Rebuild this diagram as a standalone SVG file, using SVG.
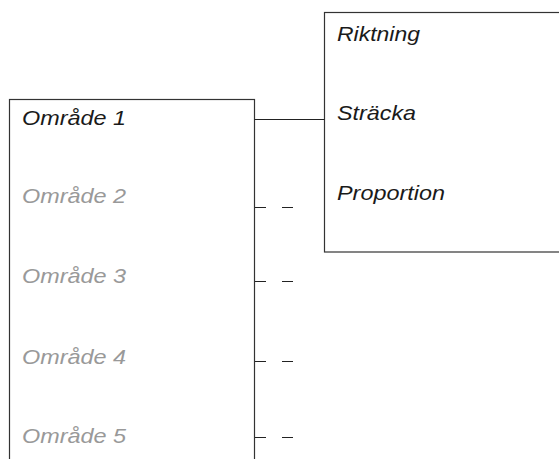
<svg xmlns="http://www.w3.org/2000/svg" width="559" height="459" viewBox="0 0 559 459">
<style>
.box{fill:none;stroke:#333;stroke-width:1.2}
.t{font-family:"Liberation Sans",Arial,sans-serif;font-style:italic;font-size:21px;fill:#1a1a1a}
.g{fill:#999}
.c{stroke:#222;stroke-width:1.2;fill:none}
</style>
<rect width="559" height="459" fill="#fff"/>
<g id="omraden">
<rect class="box" x="9.5" y="99.5" width="245" height="400"/>
<text class="t" x="22" y="125" textLength="104" lengthAdjust="spacingAndGlyphs">Område 1</text>
<text class="t g" x="22" y="203" textLength="104" lengthAdjust="spacingAndGlyphs">Område 2</text>
<text class="t g" x="22" y="283" textLength="104" lengthAdjust="spacingAndGlyphs">Område 3</text>
<text class="t g" x="22" y="364" textLength="104" lengthAdjust="spacingAndGlyphs">Område 4</text>
<text class="t g" x="22" y="443" textLength="104" lengthAdjust="spacingAndGlyphs">Område 5</text>
</g>
<g id="egenskaper">
<rect class="box" x="324.5" y="12.5" width="260" height="239.5"/>
<text class="t" x="337" y="41" textLength="83" lengthAdjust="spacingAndGlyphs">Riktning</text>
<text class="t" x="337" y="120" textLength="79" lengthAdjust="spacingAndGlyphs">Sträcka</text>
<text class="t" x="337" y="200" textLength="108" lengthAdjust="spacingAndGlyphs">Proportion</text>
</g>
<g id="connectors">
<line class="c" x1="254.5" y1="119.5" x2="324.5" y2="119.5"/>
<path class="c" d="M255 207.5H266M282 207.5H293M255 281.5H266M282 281.5H293M255 361.5H266M282 361.5H293M255 437.5H266M282 437.5H293"/>
</g>
</svg>
